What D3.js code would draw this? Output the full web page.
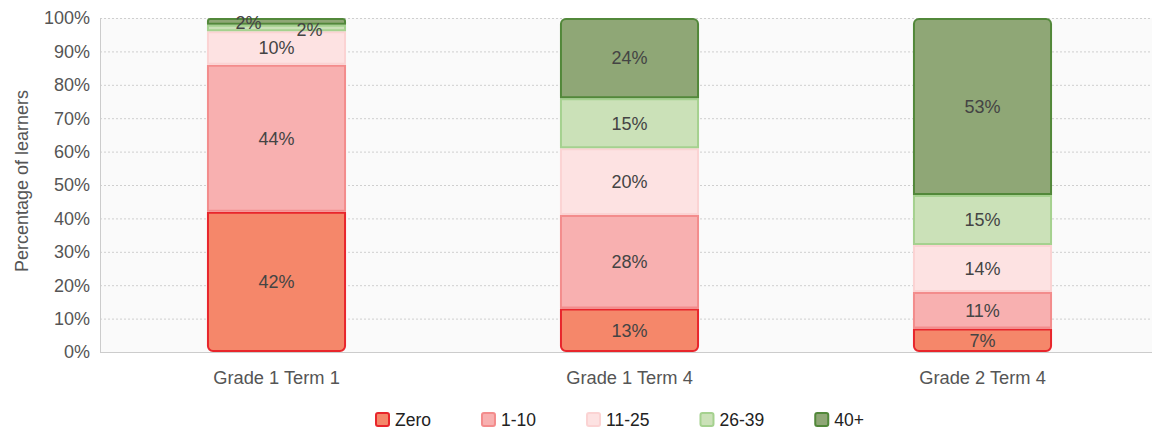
<!DOCTYPE html>
<html>
<head>
<meta charset="utf-8">
<script src="https://cdn.jsdelivr.net/npm/d3@7"></script>
<style>
  html, body { margin: 0; padding: 0; background: #fff; }
  svg { display: block; font-family: "Liberation Sans", Arial, Helvetica, sans-serif; }
</style>
</head>
<body>
<div id="chart"></div>
<script>
const categories = ['Grade 1 Term 1', 'Grade 1 Term 4', 'Grade 2 Term 4']
const seriesNames = ['Zero', '1-10', '11-25', '26-39', '40+']
const zeroValues = [42, 13, 7]
const oneToTenValues = [44, 28, 11]
const elevenToTwentyFiveValues = [10, 20, 14]
const twentySixToThirtyNineValues = [2, 15, 15]
const fortyPlusValues = [2, 24, 53]
const yTicks = [0, 10, 20, 30, 40, 50, 60, 70, 80, 90, 100]

const fills = ['#f5876a', '#f8b0b0', '#fde2e2', '#cbe1b8', '#8fa776']
const strokes = ['#e8262c', '#f38c8c', '#fbd3d3', '#a5d18f', '#52883a']

const seriesValues = [zeroValues, oneToTenValues, elevenToTwentyFiveValues, twentySixToThirtyNineValues, fortyPlusValues]

const width = 1152
const height = 432
const margin = { top: 18, right: -7, bottom: 80, left: 100 }

const svg = d3.select('#chart')
  .append('svg')
  .attr('width', width)
  .attr('height', height)

const x = d3.scaleBand()
  .domain(categories)
  .range([margin.left, width - margin.right])
  .paddingInner(0.606)
  .paddingOuter(0.303)

const y = d3.scaleLinear()
  .domain([0, 100])
  .range([height - margin.bottom, margin.top])

// plot background
svg.append('rect')
  .attr('x', margin.left)
  .attr('y', margin.top)
  .attr('width', width - margin.left)
  .attr('height', y(0) - margin.top)
  .attr('fill', '#fafafa')

// dotted gridlines
svg.append('g')
  .selectAll('line')
  .data(yTicks.filter(d => d > 0))
  .join('line')
  .attr('x1', margin.left)
  .attr('x2', width)
  .attr('y1', d => y(d) + 0.5)
  .attr('y2', d => y(d) + 0.5)
  .attr('stroke', '#cfcfcf')
  .attr('stroke-dasharray', '2,2')

// axes lines
svg.append('line')
  .attr('x1', margin.left + 0.5).attr('x2', margin.left + 0.5)
  .attr('y1', margin.top).attr('y2', y(0))
  .attr('stroke', '#cccccc')
svg.append('line')
  .attr('x1', margin.left).attr('x2', width)
  .attr('y1', y(0) + 0.5).attr('y2', y(0) + 0.5)
  .attr('stroke', '#cccccc')

// y tick labels
svg.append('g')
  .selectAll('text')
  .data(yTicks)
  .join('text')
  .attr('x', margin.left - 10)
  .attr('y', d => y(d))
  .attr('dy', '0.35em')
  .attr('text-anchor', 'end')
  .attr('fill', '#555')
  .style('font-size', '18px')
  .text(d => d + '%')

// y axis title
svg.append('text')
  .attr('transform', `translate(28, 181) rotate(-90)`)
  .attr('text-anchor', 'middle')
  .attr('fill', '#555')
  .style('font-size', '18px')
  .text('Percentage of learners')

// x tick labels
svg.append('g')
  .selectAll('text')
  .data(categories)
  .join('text')
  .attr('x', d => x(d) + x.bandwidth() / 2)
  .attr('y', y(0) + 32)
  .attr('text-anchor', 'middle')
  .attr('fill', '#555')
  .style('font-size', '18.3px')
  .text(d => d)

// stack data
const rows = categories.map((c, i) => {
  const row = { category: c }
  seriesNames.forEach((s, j) => { row[s] = seriesValues[j][i] })
  return row
})
const stacked = d3.stack().keys(seriesNames)(rows)

// rect path with optional rounded top / bottom corners
const segPath = (x0, y0, w, h, rTop, rBottom) => {
  const p = d3.path()
  p.moveTo(x0 + rTop, y0)
  p.lineTo(x0 + w - rTop, y0)
  if (rTop) p.arcTo(x0 + w, y0, x0 + w, y0 + rTop, rTop)
  p.lineTo(x0 + w, y0 + h - rBottom)
  if (rBottom) p.arcTo(x0 + w, y0 + h, x0 + w - rBottom, y0 + h, rBottom)
  p.lineTo(x0 + rBottom, y0 + h)
  if (rBottom) p.arcTo(x0, y0 + h, x0, y0 + h - rBottom, rBottom)
  p.lineTo(x0, y0 + rTop)
  if (rTop) p.arcTo(x0, y0, x0 + rTop, y0, rTop)
  p.closePath()
  return p.toString()
}

const last = seriesNames.length - 1
const seriesG = svg.append('g')
  .selectAll('g')
  .data(stacked)
  .join('g')
  .attr('fill', (d, i) => fills[i])
  .attr('stroke', (d, i) => strokes[i])
  .attr('stroke-width', 2)

seriesG.selectAll('path')
  .data(d => d.map(v => ({ v, key: d.key, index: d.index })))
  .join('path')
  .attr('d', d => {
    const x0 = x(d.v.data.category) + 1
    const w = x.bandwidth() - 2
    const top = y(d.v[1]) + 1
    const h = Math.max(y(d.v[0]) - y(d.v[1]) - 2, 0.5)
    const r = 5
    return segPath(x0, top, w, h, d.index === last ? Math.min(r, h / 2) : 0, d.index === 0 ? Math.min(r, h / 2) : 0)
  })

// data labels, tiny segments nudged aside so they do not overlap
const labelNudge = (d) => {
  if (d.v[1] - d.v[0] >= 4) return [0, 0]
  return d.index === last ? [-28, 1] : [33, 2]
}

svg.append('g')
  .selectAll('g')
  .data(stacked)
  .join('g')
  .selectAll('text')
  .data(d => d.map(v => ({ v, key: d.key, index: d.index })))
  .join('text')
  .attr('x', d => x(d.v.data.category) + x.bandwidth() / 2 + labelNudge(d)[0])
  .attr('y', d => y((d.v[0] + d.v[1]) / 2) + labelNudge(d)[1])
  .attr('dy', '0.35em')
  .attr('text-anchor', 'middle')
  .attr('fill', '#444')
  .style('font-size', '18px')
  .text(d => (d.v[1] - d.v[0]) + '%')

// legend
const legend = svg.append('g')
let lx = 376
seriesNames.forEach((name, i) => {
  const item = legend.append('g').attr('transform', `translate(${lx}, 413)`)
  item.append('rect')
    .attr('x', 0).attr('y', 0)
    .attr('width', 13).attr('height', 13)
    .attr('rx', 2)
    .attr('fill', fills[i])
    .attr('stroke', strokes[i])
    .attr('stroke-width', 2)
  const t = item.append('text')
    .attr('x', 19)
    .attr('y', 7)
    .attr('dy', '0.35em')
    .attr('fill', '#222')
    .style('font-size', '17.5px')
    .text(name)
  lx += 19 + t.node().getComputedTextLength() + 51
})
</script>
</body>
</html>
